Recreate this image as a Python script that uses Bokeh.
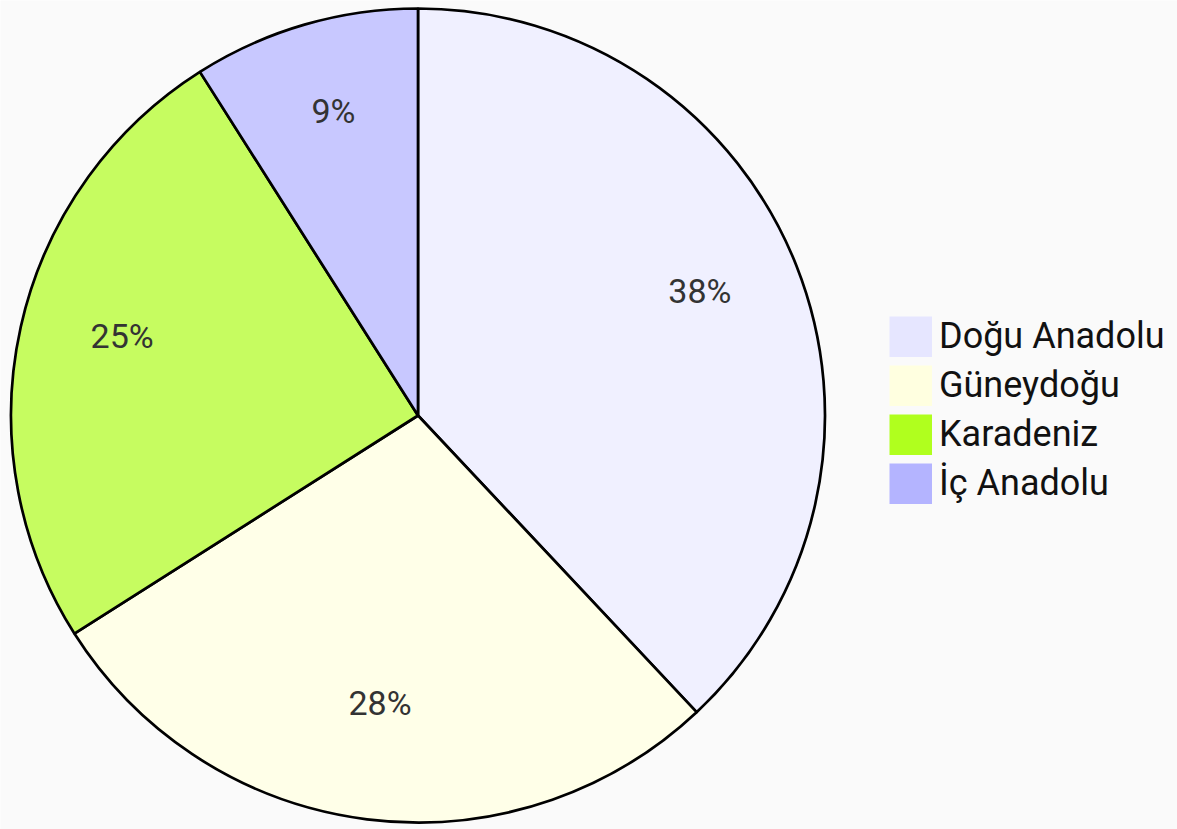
import numpy as np
from bokeh.plotting import figure
from bokeh.models import Range1d, Legend, LegendItem, ColumnDataSource
from bokeh.core.properties import value
from bokeh.embed import file_html
from bokeh.resources import INLINE

# ---- data ----
regions = ["Doğu Anadolu", "Güneydoğu", "Karadeniz", "İç Anadolu"]
shares = [38, 28, 25, 9]
pct_labels = ["38%", "28%", "25%", "9%"]
legend_colors = ["#e6e6ff", "#ffffe0", "#b0ff1e", "#b4b4ff"]
slice_colors = ["#f0f0ff", "#ffffe8", "#c6fc60", "#c8c8ff"]

# ---- layout ----
W, H = 1177, 829
CX, CY, R = 417.5, 414.0, 407.0

p = figure(width=W, height=H, output_backend="svg", toolbar_location=None,
           x_range=Range1d(0, W), y_range=Range1d(0, H),
           min_border=0, background_fill_color="#fafafa",
           border_fill_color="#fafafa", outline_line_color=None)
p.axis.visible = False
p.grid.visible = False

vals = np.array(shares, dtype=float)
frac = vals / vals.sum()
cum = np.concatenate([[0.0], np.cumsum(frac)])
start = np.pi / 2 - 2 * np.pi * cum[:-1]
end = np.pi / 2 - 2 * np.pi * cum[1:]
mid = (start + end) / 2

src = ColumnDataSource(dict(start=start, end=end, color=slice_colors))
p.wedge(x=CX, y=CY, radius=R, start_angle="start", end_angle="end",
        direction="clock", fill_color="color", line_color="#000000",
        line_width=2.7, source=src)

lsrc = ColumnDataSource(dict(x=CX + 0.745 * R * np.cos(mid),
                             y=CY + 0.745 * R * np.sin(mid),
                             t=pct_labels))
p.text(x="x", y="y", text="t", source=lsrc, text_align="center",
       text_baseline="middle", text_font=value("Roboto"),
       text_font_size="34px", text_color="#333333", y_offset=-13)

items = []
for name, col in zip(regions, legend_colors):
    r = p.line(x=[np.nan], y=[np.nan], line_color=col, line_width=41)
    items.append(LegendItem(label=name, renderers=[r]))

legend = Legend(items=items, location=(889, 325), glyph_width=43,
                glyph_height=41, spacing=7, padding=0, margin=0,
                label_standoff=7, label_text_font="Roboto",
                label_text_font_size="36px", label_text_color="#111111",
                label_text_baseline="middle",
                border_line_color=None, background_fill_alpha=0)
p.add_layout(legend)

open("out.html", "w").write(file_html(p, INLINE))
